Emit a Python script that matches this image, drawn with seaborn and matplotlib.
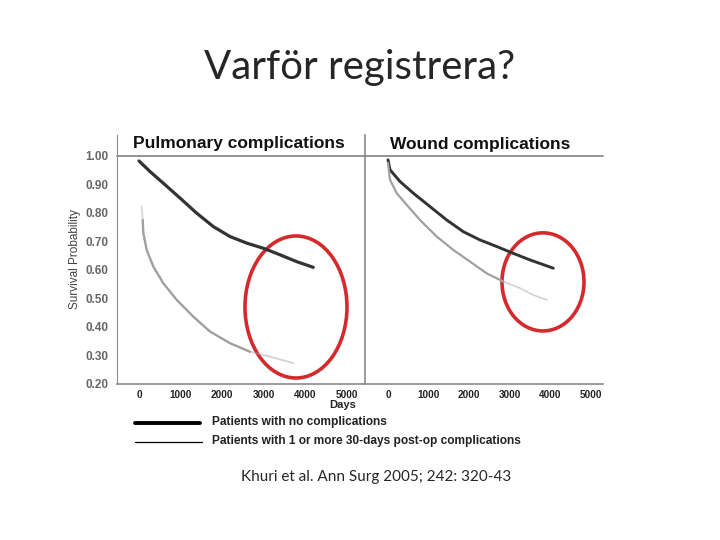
import numpy as np
import pandas as pd
import matplotlib
matplotlib.use("Agg")
import matplotlib.pyplot as plt
from matplotlib.patches import Ellipse
from matplotlib.lines import Line2D
import seaborn as sns

# Survival curves (days, survival probability)
pulm_none_days = [0, 265, 586, 988, 1390, 1790, 2193, 2595, 2995, 3398, 3800, 4200]
pulm_none_surv = [0.982, 0.945, 0.904, 0.852, 0.799, 0.752, 0.717, 0.694, 0.676, 0.653, 0.629, 0.609]
pulm_comp_days = [65, 89, 104, 185, 345, 586, 908, 1308, 1711, 2193, 2675, 3157, 3719]
pulm_comp_surv = [0.822, 0.775, 0.729, 0.670, 0.612, 0.553, 0.495, 0.436, 0.384, 0.343, 0.313, 0.296, 0.273]

wound_none_days = [0, 49, 296, 625, 1037, 1449, 1860, 2272, 2684, 3095, 3506, 4082]
wound_none_surv = [0.986, 0.951, 0.910, 0.869, 0.822, 0.775, 0.734, 0.705, 0.682, 0.658, 0.635, 0.606]
wound_comp_days = [0, 49, 215, 462, 790, 1202, 1613, 2025, 2437, 2848, 3259, 3588, 3918]
wound_comp_surv = [0.975, 0.916, 0.869, 0.828, 0.775, 0.717, 0.670, 0.629, 0.588, 0.559, 0.536, 0.512, 0.495]

panel_titles = ["Pulmonary complications", "Wound complications"]
x_ticks = [0, 1000, 2000, 3000, 4000, 5000]
y_ticks = [0.2, 0.3, 0.4, 0.5, 0.6, 0.7, 0.8, 0.9, 1.0]
legend_labels = ["Patients with no complications",
                 "Patients with 1 or more 30-days post-op complications"]

sns.set_style("white")
plt.rcParams['font.family'] = ['Liberation Sans', 'DejaVu Sans']

fig = plt.figure(figsize=(7.2, 5.4), dpi=100)
ax1 = fig.add_axes([117 / 720, 156 / 540, 248 / 720, 249 / 540])
ax2 = fig.add_axes([364 / 720, 156 / 540, 239 / 720, 249 / 540])

grey = "#8a8a8a"
dark = "#333333"
light = "#a0a0a0"


def curve(ax, days, surv, color, lw, alpha=1.0):
    df = pd.DataFrame({"days": days, "surv": surv})
    sns.lineplot(data=df, x="days", y="surv", ax=ax, color=color, lw=lw,
                 alpha=alpha, sort=False, estimator=None)


# pulmonary panel: faint start and fading tail on the complication curve
curve(ax1, pulm_none_days, pulm_none_surv, dark, 2.3)
curve(ax1, pulm_comp_days[:2], pulm_comp_surv[:2], light, 1.6, 0.35)
curve(ax1, pulm_comp_days[1:11], pulm_comp_surv[1:11], light, 1.7)
curve(ax1, pulm_comp_days[10:], pulm_comp_surv[10:], light, 1.4, 0.45)

curve(ax2, wound_none_days, wound_none_surv, dark, 2.1)
curve(ax2, wound_comp_days[:10], wound_comp_surv[:10], light, 1.6)
curve(ax2, wound_comp_days[9:], wound_comp_surv[9:], light, 1.3, 0.45)

ax1.set_xlim(-530, 5446)
ax2.set_xlim(-593, 5309)
for ax in [ax1, ax2]:
    ax.set_ylim(0.2, 1.073)
    ax.axhline(1.0, color=grey, lw=1.3, clip_on=False)
    ax.set_xticks(x_ticks)
    ax.set_xticks(np.arange(500, 5000, 1000), minor=True)
    ax.set_xticklabels([str(t) for t in x_ticks], fontsize=7.2,
                       fontweight="bold", color="#222222")
    ax.tick_params(axis="x", which="both", direction="inout", length=4,
                   width=0.8, color=grey, pad=2)
    ax.set_xlabel("")
    ax.set_ylabel("")
    for s in ["top", "right", "left", "bottom"]:
        ax.spines[s].set_visible(False)
    ax.spines["bottom"].set_visible(True)
    ax.spines["bottom"].set_color(grey)
    ax.spines["bottom"].set_linewidth(1.2)
    ax.patch.set_alpha(0)

ax1.text(0.065, 1.042, panel_titles[0], transform=ax1.get_yaxis_transform(),
         fontsize=12.5, fontweight="bold", va="center", ha="left",
         color="#111111")
ax2.text(0.109, 1.039, panel_titles[1], transform=ax2.get_yaxis_transform(),
         fontsize=12.5, fontweight="bold", va="center", ha="left",
         color="#111111")

ax1.spines["left"].set_visible(True)
ax1.spines["left"].set_color(grey)
ax1.spines["right"].set_visible(True)
ax1.spines["right"].set_color(grey)
ax1.spines["right"].set_linewidth(1.2)
ax1.set_yticks(y_ticks)
ax1.set_yticklabels([f"{t:.2f}" for t in y_ticks], fontsize=8.5,
                    fontweight="bold", color="#666666")
ax1.tick_params(axis="y", direction="out", length=3, color=grey, pad=3)
ax1.set_ylabel("Survival Probability", fontsize=8.5, color="#444444",
               labelpad=3)
ax2.set_yticks([])
ax1.set_xlabel("Days", fontsize=8, fontweight="bold", color="#222222")
ax1.xaxis.set_label_coords(0.911, -0.084)
ax1.xaxis.label.set_va("center")

# red circles around the tail of the curves
ax1.add_patch(Ellipse((3783, 0.47), 2458, 0.498, fill=False,
                      edgecolor="#d42a2e", lw=2.6, clip_on=False))
ax2.add_patch(Ellipse((3827, 0.558), 2025, 0.344, fill=False,
                      edgecolor="#d42a2e", lw=2.6, clip_on=False))

# legend drawn under the panels
fig.add_artist(Line2D([135 / 720, 200 / 720], [1 - 423 / 540] * 2,
                      color="black", lw=2.8))
fig.add_artist(Line2D([135 / 720, 202 / 720], [1 - 442 / 540] * 2,
                      color="black", lw=0.9))
fig.text(212 / 720, 1 - 422 / 540, legend_labels[0], fontsize=8.6,
         fontweight="bold", color="#222222", va="center")
fig.text(212 / 720, 1 - 441 / 540, legend_labels[1], fontsize=8.6,
         fontweight="bold", color="#222222", va="center")

fig.text(0.5, 1 - 68 / 540, "Varför registrera?", fontsize=29,
         family=["Lato", "DejaVu Sans"], ha="center", va="center")
fig.text(376 / 720, 1 - 477 / 540, "Khuri et al. Ann Surg 2005; 242: 320-43",
         fontsize=11, family=["Lato", "DejaVu Sans"], ha="center",
         va="center")

fig.savefig("out.png", dpi=100)
